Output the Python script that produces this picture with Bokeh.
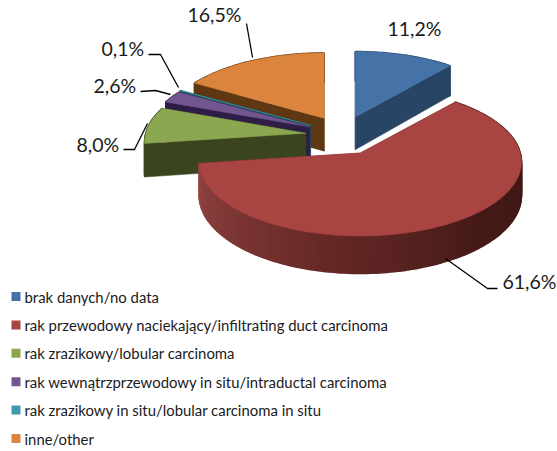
import math
from bokeh.plotting import figure
from bokeh.models import Range1d
from bokeh.core.properties import value
from bokeh.embed import file_html
from bokeh.resources import INLINE

categories = ["brak danych/no data",
              "rak przewodowy naciekający/infiltrating duct carcinoma",
              "rak zrazikowy/lobular carcinoma",
              "rak wewnątrzprzewodowy in situ/intraductal carcinoma",
              "rak zrazikowy in situ/lobular carcinoma in situ",
              "inne/other"]
shares = [11.2, 61.6, 8.0, 2.6, 0.1, 16.5]
share_labels = ["11,2%", "61,6%", "8,0%", "2,6%", "0,1%", "16,5%"]
top_colors = ["#4673a7", "#a84442", "#8ba74f", "#71568f", "#4198af", "#db843d"]
side_colors = ["#284566", "#5a2523", "#3a441f", "#2e1e45", "#1b4a58", "#5e3813"]
draw_order = [5, 0, 4, 3, 2, 1]

W, H = 557, 451
FONT = "Lato"
CX, CY, A, B, K, DEPTH, EX, EY = 342, 135, 160, 73, 0.12, 33, 37, 20

p = figure(width=W, height=H, output_backend="svg", toolbar_location=None,
           x_range=Range1d(0, W), y_range=Range1d(H, 0),
           min_border=0, outline_line_color=None)
p.axis.visible = False
p.grid.visible = False
p.background_fill_color = "white"
p.border_fill_color = "white"


def project(theta, r, mid, depth=False):
    X, Y = r * math.sin(theta), r * math.cos(theta)
    w = 1 + K * Y
    sx = CX + EX * math.sin(mid) + A * X / w
    sy = CY - EY * math.cos(mid) - B * Y / w + (DEPTH / w if depth else 0)
    return sx, sy


def poly(pts, color, lw=0.5):
    p.patch([q[0] for q in pts], [q[1] for q in pts], fill_color=color,
            line_color=color, line_width=lw)


def lerp_stops(t):
    stops = [(0.0, (62, 24, 22)), (0.28, (70, 27, 24)), (0.6, (104, 42, 40)), (1.0, (146, 68, 66))]
    for (t0, c0), (t1, c1) in zip(stops, stops[1:]):
        if t <= t1:
            f = (t - t0) / (t1 - t0)
            return tuple(int(c0[i] + (c1[i] - c0[i]) * f) for i in range(3))
    return stops[-1][1]


starts, acc = [], 0.0
for s in shares:
    starts.append(acc)
    acc += s

for i in draw_order:
    a0 = math.radians(starts[i] * 3.6)
    a1 = math.radians((starts[i] + shares[i]) * 3.6)
    mid = (a0 + a1) / 2
    n = max(2, int(shares[i] * 3))
    angles = [a0 + (a1 - a0) * j / n for j in range(n + 1)]
    # radial faces
    for edge in (a0, a1):
        poly([project(edge, 0, mid), project(edge, 1, mid),
              project(edge, 1, mid, True), project(edge, 0, mid, True)], side_colors[i])
    # outer rim
    for j in range(n):
        t0, t1 = angles[j], angles[j + 1]
        col = side_colors[i]
        if i == 1:
            frac = (math.degrees((t0 + t1) / 2) - 90) / (262 - 90)
            col = "#%02x%02x%02x" % lerp_stops(max(0.0, min(1.0, frac)))
        poly([project(t0, 1, mid), project(t1, 1, mid),
              project(t1, 1, mid, True), project(t0, 1, mid, True)], col, 1.5)
    # top surface
    poly([project(a0, 0, mid)] + [project(t, 1, mid) for t in angles], top_colors[i])

# leader lines
leaders = [([445, 487, 497], [258, 288, 288]),
           ([123, 134, 147], [149, 149, 123]),
           ([140, 155, 170], [91, 90, 94]),
           ([148, 160, 178], [54, 54, 87]),
           ([246, 252], [23, 57])]
for xs, ys in leaders:
    p.line(xs, ys, line_color="black", line_width=1.3)

label_x = [387, 502, 76, 93, 101, 187]
label_y = [28, 281, 144, 85, 48, 14]
p.text(label_x, label_y, text=share_labels, text_font=value(FONT), text_font_size="19.5px",
       text_color="#1a1a1a", text_baseline="middle", text_align="left")

# legend
leg_y = [296 + 28.4 * i for i in range(len(categories))]
p.scatter([15.5] * 6, leg_y, marker="square", size=9, fill_color=top_colors, line_color=None)
p.text([24] * 6, leg_y, text=categories, text_font=value(FONT), text_font_size="14.9px",
       text_color="#1a1a1a", text_baseline="middle", text_align="left")

open("out.html", "w").write(file_html(p, INLINE))
